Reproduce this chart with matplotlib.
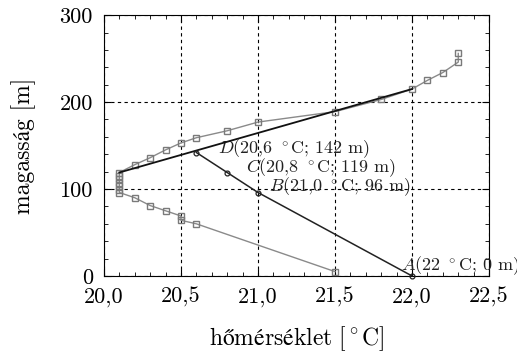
import numpy as np
import matplotlib
matplotlib.use("Agg")
import matplotlib.pyplot as plt
from matplotlib.ticker import MultipleLocator, FuncFormatter

plt.rcParams['font.family'] = ['cmr10', 'STIXGeneral', 'DejaVu Serif']
plt.rcParams['mathtext.fontset'] = 'cm'
plt.rcParams['axes.unicode_minus'] = False

# measured temperature profile (grey squares)
prof_T = [22.3, 22.3, 22.2, 22.1, 22.0, 21.8, 21.5, 21.0, 20.8, 20.6, 20.5, 20.4,
          20.3, 20.2, 20.1, 20.1, 20.1, 20.1, 20.1, 20.1, 20.1, 20.2, 20.3, 20.4,
          20.5, 20.5, 20.6, 21.5]
prof_h = [256, 246, 234, 225, 215, 203, 189, 177, 167, 159, 153, 145,
          136, 128, 119, 115, 111, 107, 103, 99, 96, 90, 81, 75,
          69, 64, 60, 5]

# rising parcel A -> D (black circles)
parcel_T = [22.0, 21.0, 20.8, 20.6]
parcel_h = [0, 96, 119, 142]
parcel_lbl = [r"$A$(22 $^\circ$C; 0 m)", r"$B$(21,0 $^\circ$C; 96 m)",
              r"$C$(20,8 $^\circ$C; 119 m)", r"$D$(20,6 $^\circ$C; 142 m)"]
lbl_T = [21.93, 21.07, 20.92, 20.74]
lbl_h = [12, 103, 125, 147]

# straight black line through the inversion
inv_T = [20.1, 22.0]
inv_h = [119, 215]

fig = plt.figure(figsize=(5.17, 3.52), dpi=100)
ax = fig.add_axes([0.201, 0.216, 0.745, 0.741])

ax.plot(prof_T, prof_h, color='#8a8a8a', lw=1.0, marker='s', ms=5,
        mfc='none', mec='#7a7a7a', mew=1.0, zorder=3)
ax.plot(inv_T, inv_h, color='#111111', lw=1.3, zorder=4)
ax.plot(parcel_T, parcel_h, color='#222222', lw=1.1, marker='o', ms=3.5,
        mfc='none', mec='#222222', mew=0.9, zorder=4, clip_on=False)

for t, x, y in zip(parcel_lbl, lbl_T, lbl_h):
    ax.text(x, y, t, fontsize=13, va='center', ha='left', color='#222222',
            clip_on=False)

ax.set_xlim(20.0, 22.5)
ax.set_ylim(0, 300)
ax.xaxis.set_major_locator(MultipleLocator(0.5))
ax.xaxis.set_minor_locator(MultipleLocator(0.1))
ax.yaxis.set_major_locator(MultipleLocator(100))
ax.yaxis.set_minor_locator(MultipleLocator(20))
ax.xaxis.set_major_formatter(FuncFormatter(lambda v, p: f"{v:.1f}".replace('.', ',')))
ax.tick_params(which='both', direction='in', top=True, right=True, labelsize=16)
ax.tick_params(which='major', length=5, pad=8)
ax.tick_params(which='minor', length=3)
ax.grid(True, which='major', ls=(0, (3, 3)), color='black', lw=0.8)

ax.set_xlabel(r"$\mathrm{hőmérséklet\ [^\circ C]}$", fontsize=17, labelpad=12)
ax.set_ylabel("magasság [m]", fontsize=17, labelpad=17)

fig.savefig("out.png", dpi=100)
